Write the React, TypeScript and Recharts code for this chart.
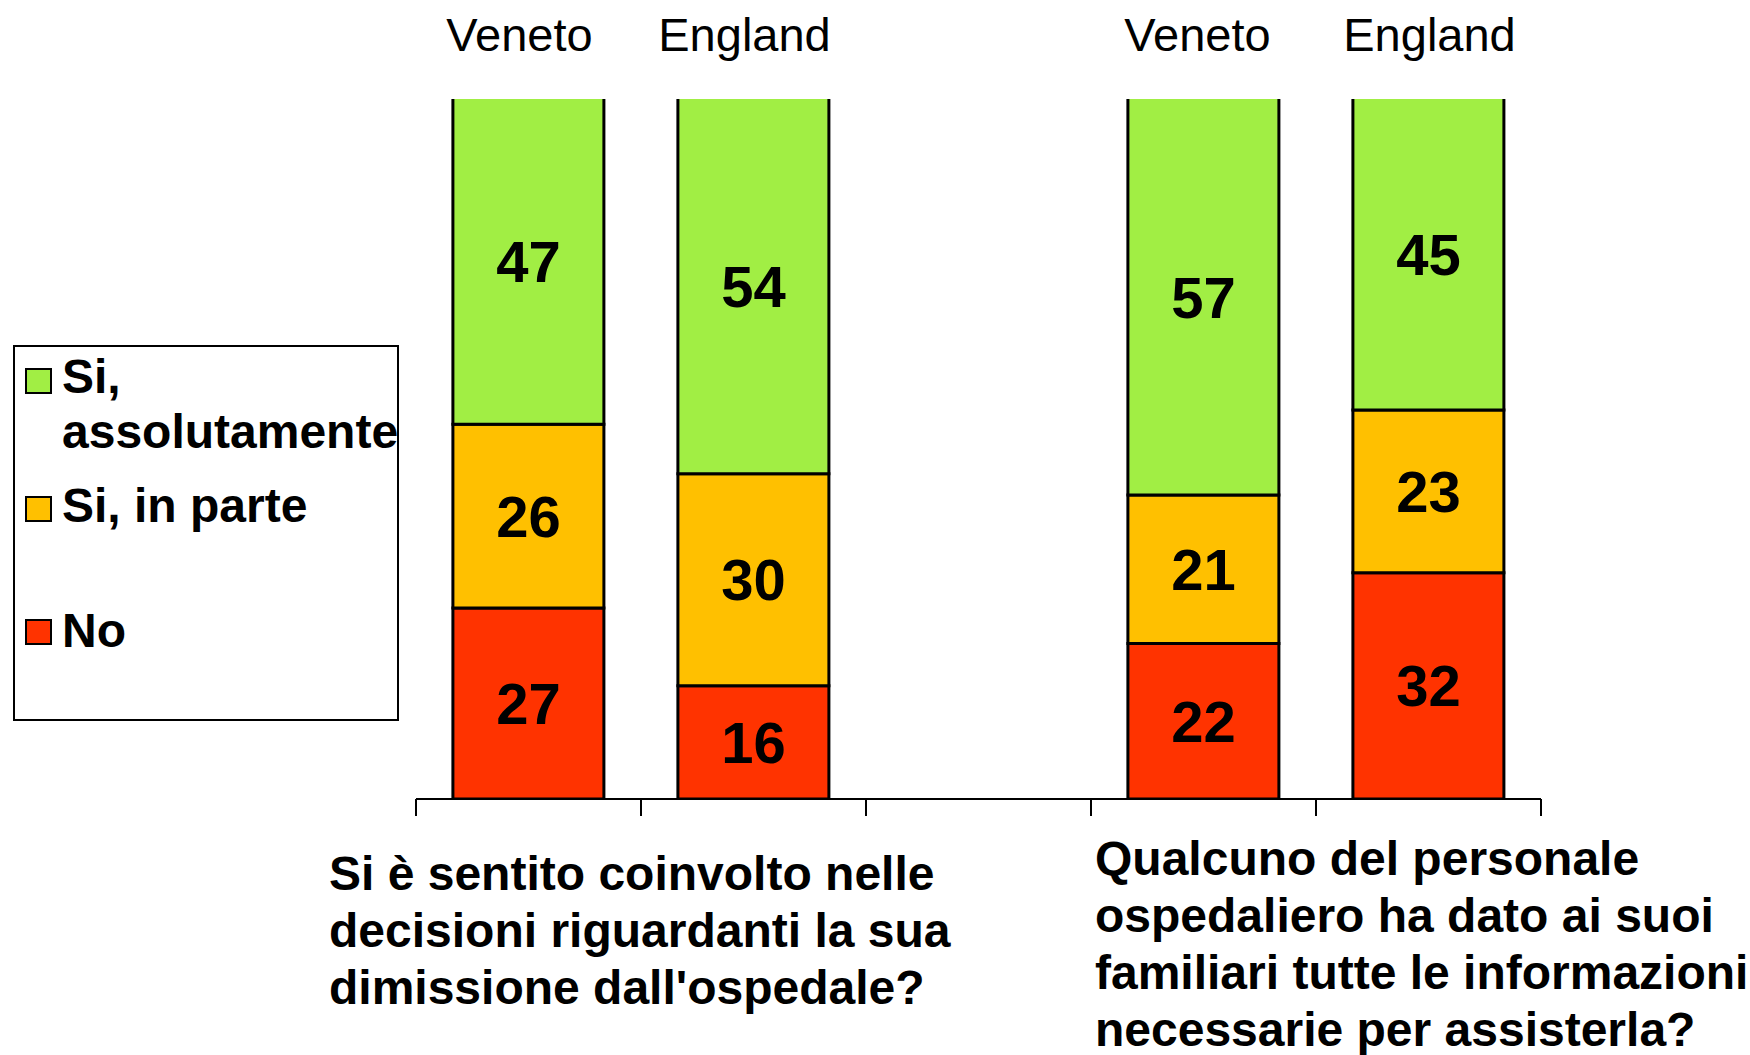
import { Bar, BarChart, LabelList, Legend, XAxis, YAxis } from "recharts";

const FONT = "'Liberation Sans', Arial, sans-serif";

const categories = ["Veneto", "England", "", "Veneto", "England"];
const noValues = [27, 16, null, 22, 32];
const partlyValues = [26, 30, null, 21, 23];
const yesValues = [47, 54, null, 57, 45];

const legendOrder = ["Si, assolutamente", "Si, in parte", "No"];
const legendLines = [["Si,", "assolutamente"], ["Si, in parte"], ["No"]];
const questionLeft = ["Si è sentito coinvolto nelle", "decisioni riguardanti la sua", "dimissione dall'ospedale?"];
const questionRight = [
  "Qualcuno del personale",
  "ospedaliero ha dato ai suoi",
  "familiari tutte le informazioni",
  "necessarie per assisterla?",
];

const GREEN = "#a1ee44";
const ORANGE = "#ffc000";
const RED = "#ff3300";

const W = 1750;
const H = 1055;
const MARGIN = { top: 39, right: 209, bottom: 236, left: 416 };
const BAND = (W - MARGIN.left - MARGIN.right) / categories.length;
const topLabelShift = [-9, -9, 0, -6, 1];

const data = categories.map((name, i) => ({
  name,
  no: noValues[i],
  partly: partlyValues[i],
  yes: yesValues[i],
}));

function TopTick({ x, payload, index }: any) {
  return (
    <text x={x + (topLabelShift[index] ?? 0)} y={51} textAnchor="middle" fontSize={47} fontFamily={FONT} fill="#000">
      {payload.value}
    </text>
  );
}

// tick marks sit on the category boundaries, not the centres
function BoundaryTick({ x, y, index }: any) {
  const left = x - BAND / 2;
  const right = x + BAND / 2;
  return (
    <g>
      <line x1={left} x2={left} y1={y} y2={y + 17} stroke="#000" strokeWidth={2} />
      {index === categories.length - 1 && <line x1={right} x2={right} y1={y} y2={y + 17} stroke="#000" strokeWidth={2} />}
    </g>
  );
}

function OpenTopBar({ x, y, width, height, fill }: any) {
  if (!height) return null;
  return (
    <g>
      <rect x={x} y={y} width={width} height={height} fill={fill} />
      <path d={`M${x},${y} V${y + height} H${x + width} V${y}`} fill="none" stroke="#000" strokeWidth={3} />
    </g>
  );
}

// legend rows: square top and text baselines, relative to the box
const legendRows = [
  { sq: 24, base: [48, 103] },
  { sq: 152, base: [177] },
  { sq: 275, base: [302] },
];

function LegendBox({ payload }: any) {
  const items = legendOrder.map((name) => (payload ?? []).find((p: any) => p.value === name)).filter(Boolean);
  return (
    <svg width={386} height={376} style={{ display: "block" }}>
      <rect x={1} y={1} width={384} height={374} fill="#fff" stroke="#000" strokeWidth={2} />
      {items.map((item: any, i: number) => (
        <g key={item.value}>
          <rect x={13} y={legendRows[i].sq} width={25} height={24} fill={item.color} stroke="#000" strokeWidth={2} />
          {legendLines[i].map((line, j) => (
            <text key={line} x={49} y={legendRows[i].base[j]} fontSize={48} fontWeight="bold" fontFamily={FONT} fill="#000">
              {line}
            </text>
          ))}
        </g>
      ))}
    </svg>
  );
}

const labelStyle = { fill: "#000", fontSize: 58, fontWeight: "bold", fontFamily: FONT };

export default function App() {
  return (
    <div style={{ position: "absolute", left: 0, top: 0, width: W, height: H, background: "#fff" }}>
      <BarChart width={W} height={H} data={data} margin={MARGIN} barCategoryGap="16.4%">
        <XAxis
          xAxisId="top"
          dataKey="name"
          orientation="top"
          height={60}
          axisLine={false}
          tickLine={false}
          tick={<TopTick />}
          interval={0}
        />
        <XAxis
          xAxisId="frame"
          dataKey="name"
          height={20}
          tickSize={0}
          tickMargin={0}
          interval={0}
          axisLine={{ stroke: "#000", strokeWidth: 2 }}
          tickLine={false}
          tick={<BoundaryTick />}
        />
        <YAxis hide domain={[0, 99]} allowDataOverflow />
        <Legend
          layout="horizontal"
          verticalAlign="middle"
          align="center"
          wrapperStyle={{ left: 13, top: 345, width: 386, height: 376 }}
          content={<LegendBox />}
        />
        <Bar xAxisId="frame" dataKey="no" name="No" stackId="s" fill={RED} stroke="#000" strokeWidth={3} isAnimationActive={false}>
          <LabelList dataKey="no" position="center" style={labelStyle} />
        </Bar>
        <Bar xAxisId="frame" dataKey="partly" name="Si, in parte" stackId="s" fill={ORANGE} stroke="#000" strokeWidth={3} isAnimationActive={false}>
          <LabelList dataKey="partly" position="center" style={labelStyle} />
        </Bar>
        <Bar
          xAxisId="frame"
          dataKey="yes"
          name="Si, assolutamente"
          stackId="s"
          fill={GREEN}
          shape={<OpenTopBar />}
          isAnimationActive={false}
        >
          <LabelList dataKey="yes" position="center" style={labelStyle} />
        </Bar>
      </BarChart>
      <svg width={W} height={H} style={{ position: "absolute", left: 0, top: 0, pointerEvents: "none" }}>
        {questionLeft.map((line, i) => (
          <text key={line} x={329} y={890 + i * 57} fontSize={48} fontWeight="bold" fontFamily={FONT} fill="#000">
            {line}
          </text>
        ))}
        {questionRight.map((line, i) => (
          <text key={line} x={1095} y={875 + i * 57} fontSize={48} fontWeight="bold" fontFamily={FONT} fill="#000">
            {line}
          </text>
        ))}
      </svg>
    </div>
  );
}
